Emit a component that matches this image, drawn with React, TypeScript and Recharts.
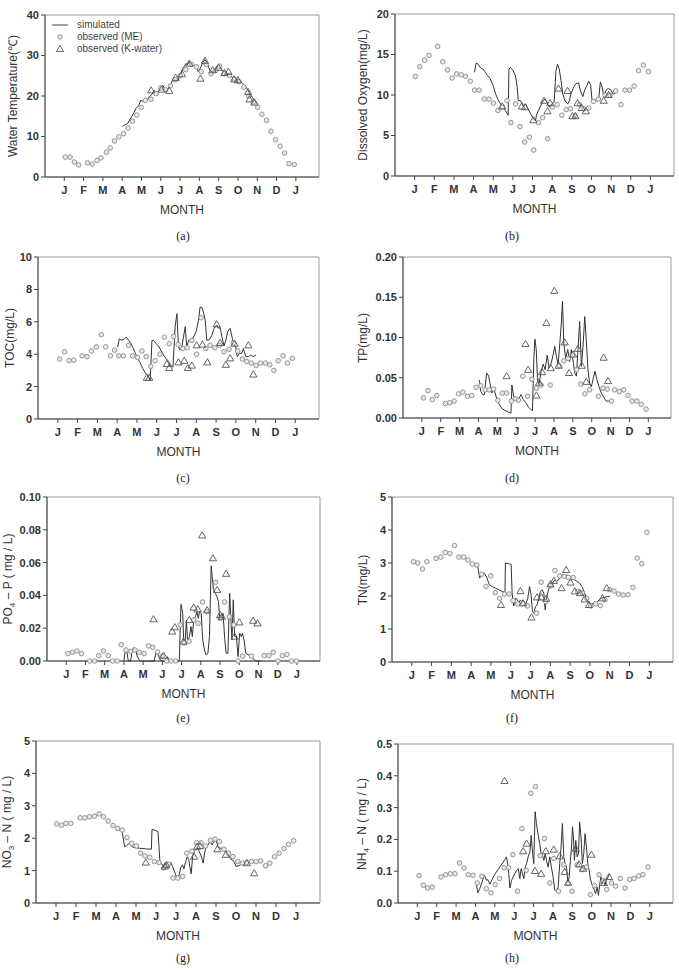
import React from "react";
import { ComposedChart, Line, Scatter, XAxis, YAxis, ReferenceArea } from "recharts";

type Pair = [number, number];

// x is measured in months: 1 = first "J" tick, 13 = the following January
const MONTHS = ["J", "F", "M", "A", "M", "J", "J", "A", "S", "O", "N", "D", "J"];
const MONTH_TICKS = [1, 2, 3, 4, 5, 6, 7, 8, 9, 10, 11, 12, 13];
const X_MAX = 14.2;

// (a) water temperature
const tempSim: Pair[] = [[4.02,12.5],[4.15,12.9],[4.28,13.2],[4.4,14.2],[4.54,15.3],[4.62,16.0],[4.71,16.9],[4.85,17.6],[4.97,19.0],[5.05,18.6],[5.14,19.1],[5.27,19.0],[5.4,19.8],[5.53,20.3],[5.66,21.4],[5.75,20.8],[5.84,21.0],[5.96,21.6],[6.09,22.7],[6.18,22.0],[6.27,21.4],[6.35,21.6],[6.44,22.3],[6.52,22.9],[6.61,23.9],[6.7,23.6],[6.79,24.3],[6.88,23.7],[6.96,24.7],[7.05,25.4],[7.13,26.8],[7.22,27.3],[7.3,28.0],[7.39,27.8],[7.48,28.5],[7.56,28.0],[7.65,28.0],[7.74,27.5],[7.82,27.6],[7.88,26.8],[7.94,26.0],[8.0,26.4],[8.08,27.2],[8.18,28.2],[8.28,29.0],[8.35,28.6],[8.42,28.0],[8.49,27.0],[8.56,26.2],[8.66,26.0],[8.77,26.4],[8.86,27.0],[8.94,27.6],[9.02,27.0],[9.1,26.8],[9.19,26.2],[9.28,26.0],[9.36,25.9],[9.45,25.6],[9.54,25.2],[9.63,24.9],[9.71,24.6],[9.8,24.3],[9.88,24.0],[9.97,24.1],[10.06,23.8],[10.15,23.5],[10.23,23.2],[10.32,22.7],[10.41,22.2],[10.5,21.6],[10.58,20.9],[10.67,20.2],[10.75,19.6],[10.84,19.1],[10.93,18.6],[11.02,18.1]];
const tempME: Pair[] = [[1.05,4.9],[1.3,4.9],[1.52,3.7],[1.74,3.0],[2.2,3.5],[2.45,3.2],[2.7,4.1],[2.9,4.7],[3.18,6.1],[3.38,7.2],[3.6,8.9],[3.83,9.9],[4.07,10.7],[4.3,12.1],[4.54,13.8],[4.76,15.3],[4.99,17.2],[5.2,18.9],[5.5,19.2],[5.75,20.6],[6.0,22.0],[6.25,21.5],[6.5,22.5],[6.75,24.0],[7.0,25.0],[7.3,26.5],[7.6,27.8],[7.85,27.2],[8.1,26.0],[8.35,27.8],[8.6,25.5],[8.85,26.3],[9.05,27.4],[9.3,25.5],[9.55,25.1],[9.8,24.2],[10.05,23.5],[10.3,22.2],[10.55,20.0],[10.8,18.5],[11.02,17.2],[11.24,15.5],[11.48,14.0],[11.71,11.3],[11.95,9.2],[12.19,7.6],[12.42,5.9],[12.64,3.3],[12.92,3.1]];
const tempKW: Pair[] = [[5.5,21.4],[6.04,21.6],[6.44,21.3],[6.77,24.5],[7.1,25.4],[7.48,28.0],[8.05,24.3],[8.29,28.7],[8.69,26.4],[9.0,27.0],[9.3,25.7],[9.5,26.0],[9.8,24.1],[10.0,23.9],[10.53,21.0],[10.6,19.2],[10.85,18.4]];

// (b) dissolved oxygen
const doSim: Pair[] = [[4.05,12.8],[4.12,13.9],[4.2,13.9],[4.34,13.4],[4.48,13.2],[4.6,12.8],[4.71,12.4],[4.85,12.0],[4.99,11.2],[5.11,10.2],[5.23,9.5],[5.37,8.9],[5.48,8.6],[5.62,8.1],[5.76,7.5],[5.8,13.2],[5.88,13.4],[6.01,13.0],[6.13,12.4],[6.22,11.0],[6.27,9.3],[6.39,9.3],[6.53,8.6],[6.65,8.9],[6.77,8.3],[6.9,7.7],[7.04,7.1],[7.15,6.8],[7.2,7.5],[7.3,8.1],[7.42,8.7],[7.54,9.3],[7.64,9.5],[7.73,9.1],[7.85,8.5],[7.97,8.9],[8.1,9.1],[8.19,13.0],[8.27,13.8],[8.36,13.2],[8.45,11.8],[8.53,10.2],[8.65,9.3],[8.79,8.9],[8.88,9.3],[8.96,10.2],[9.1,11.0],[9.22,11.4],[9.34,11.5],[9.44,10.5],[9.56,9.8],[9.65,10.6],[9.77,11.2],[9.86,11.7],[9.96,11.2],[10.03,9.3],[10.13,9.4],[10.25,9.3],[10.37,9.5],[10.45,11.6],[10.54,11.0],[10.63,9.8],[10.73,10.6],[10.85,10.8],[10.99,10.6],[11.11,10.1],[11.19,10.2]];
const doME: Pair[] = [[1.03,12.3],[1.26,13.5],[1.51,14.3],[1.73,14.9],[2.17,16.0],[2.43,14.1],[2.67,13.1],[2.91,12.1],[3.14,12.6],[3.37,12.5],[3.59,12.3],[3.83,11.7],[4.05,10.6],[4.28,10.6],[4.54,9.5],[4.78,9.5],[5.01,9.0],[5.24,8.1],[5.46,8.5],[5.7,9.3],[5.9,6.6],[6.14,8.9],[6.36,6.1],[6.6,4.2],[6.84,4.8],[7.06,3.2],[7.3,6.6],[7.52,7.2],[7.77,4.6],[8.01,8.5],[8.25,8.8],[8.49,7.5],[8.71,8.2],[8.93,8.3],[9.17,7.4],[9.4,8.8],[9.62,8.3],[9.86,8.4],[10.1,9.2],[10.35,9.5],[10.69,10.0],[10.94,10.0],[11.23,10.5],[11.5,8.8],[11.71,10.6],[11.94,10.6],[12.17,11.1],[12.4,13.0],[12.64,13.7],[12.9,12.9]];
const doKW: Pair[] = [[5.46,8.6],[6.45,8.6],[6.62,8.5],[7.04,6.9],[7.59,9.3],[7.76,8.0],[7.9,9.0],[8.32,10.8],[8.78,10.5],[9.03,7.4],[9.18,7.4],[9.29,9.0],[9.5,8.4],[9.71,8.0],[10.62,9.3],[10.87,10.0]];

// (c) TOC
const tocSim: Pair[] = [[4.03,4.45],[4.11,4.95],[4.24,4.85],[4.36,4.95],[4.46,5.05],[4.58,4.85],[4.7,4.65],[4.8,4.4],[4.92,4.05],[5.03,3.75],[5.17,3.45],[5.3,3.1],[5.42,2.85],[5.54,2.7],[5.67,2.4],[5.76,4.85],[5.84,4.85],[5.97,4.65],[6.09,4.5],[6.21,4.25],[6.34,3.95],[6.46,3.75],[6.6,3.55],[6.71,3.3],[6.82,3.2],[6.93,5.7],[7.02,6.5],[7.1,4.45],[7.18,4.25],[7.27,4.45],[7.35,5.05],[7.44,5.7],[7.52,4.35],[7.6,4.85],[7.72,4.9],[7.86,5.05],[7.99,5.4],[8.11,6.1],[8.19,6.9],[8.28,6.9],[8.36,6.6],[8.45,6.1],[8.53,4.85],[8.66,4.9],[8.78,5.15],[8.9,5.6],[9.03,5.8],[9.12,5.6],[9.2,5.65],[9.3,5.05],[9.4,4.5],[9.49,4.85],[9.59,5.4],[9.71,5.6],[9.79,5.15],[9.87,4.65],[9.99,4.45],[10.07,3.85],[10.18,4.05],[10.29,4.05],[10.38,4.35],[10.5,3.85],[10.63,3.85],[10.75,3.95],[10.88,3.85],[11.02,3.95]];
const tocME: Pair[] = [[1.1,3.7],[1.34,4.15],[1.57,3.6],[1.81,3.63],[2.23,3.9],[2.48,3.85],[2.7,4.2],[2.95,4.45],[3.2,5.2],[3.42,4.45],[3.66,3.9],[3.87,4.25],[4.08,3.9],[4.31,3.9],[4.58,4.55],[4.78,3.9],[5.03,3.8],[5.25,4.2],[5.47,3.85],[5.7,3.25],[5.92,3.6],[6.16,4.0],[6.38,5.05],[6.63,4.65],[6.85,5.1],[7.08,4.6],[7.32,4.35],[7.54,4.4],[7.78,4.85],[8.01,4.0],[8.24,6.25],[8.48,4.35],[8.7,4.55],[8.93,4.4],[9.17,4.55],[9.4,4.15],[9.65,4.3],[9.87,4.7],[10.09,4.2],[10.33,3.7],[10.55,3.55],[10.78,3.45],[11.02,3.3],[11.24,3.45],[11.49,3.45],[11.71,3.35],[11.92,3.0],[12.14,3.6],[12.38,3.9],[12.6,3.45],[12.85,3.75]];
const tocKW: Pair[] = [[5.5,2.55],[5.62,2.55],[6.51,3.4],[6.63,3.15],[7.1,3.5],[7.39,3.6],[7.57,3.15],[7.77,3.3],[8.02,4.55],[8.31,4.6],[8.56,3.5],[9.03,5.85],[9.2,4.7],[9.49,3.35],[9.71,3.75],[9.93,4.65],[10.63,4.55],[10.88,2.75]];

// (d) TP
const tpSim: Pair[] = [[4.05,0.047],[4.12,0.033],[4.22,0.029],[4.31,0.029],[4.43,0.056],[4.54,0.052],[4.61,0.043],[4.71,0.031],[4.82,0.036],[4.93,0.027],[5.05,0.019],[5.23,0.012],[5.4,0.0095],[5.58,0.0074],[5.72,0.006],[5.77,0.041],[5.86,0.027],[5.98,0.025],[6.11,0.023],[6.25,0.029],[6.37,0.023],[6.51,0.019],[6.63,0.014],[6.76,0.011],[6.86,0.009],[6.93,0.072],[6.99,0.098],[7.06,0.085],[7.13,0.047],[7.21,0.042],[7.32,0.058],[7.43,0.067],[7.53,0.06],[7.64,0.078],[7.74,0.062],[7.85,0.068],[7.95,0.078],[8.04,0.089],[8.13,0.076],[8.22,0.066],[8.31,0.093],[8.39,0.118],[8.45,0.145],[8.52,0.093],[8.62,0.074],[8.73,0.085],[8.83,0.07],[8.92,0.085],[9.03,0.068],[9.1,0.056],[9.19,0.052],[9.27,0.085],[9.36,0.12],[9.45,0.064],[9.54,0.089],[9.63,0.126],[9.71,0.097],[9.8,0.06],[9.89,0.043],[9.98,0.039],[10.06,0.047],[10.17,0.058],[10.28,0.047],[10.38,0.039],[10.51,0.031],[10.63,0.026],[10.77,0.021],[10.91,0.021],[11.04,0.021]];
const tpME: Pair[] = [[1.09,0.025],[1.32,0.034],[1.55,0.023],[1.79,0.028],[2.25,0.018],[2.48,0.019],[2.71,0.021],[2.94,0.03],[3.18,0.032],[3.41,0.027],[3.64,0.028],[3.87,0.038],[4.12,0.04],[4.35,0.035],[4.57,0.035],[4.8,0.036],[5.03,0.022],[5.26,0.031],[5.49,0.031],[5.74,0.021],[5.96,0.024],[6.12,0.022],[6.35,0.052],[6.6,0.027],[6.83,0.048],[7.07,0.037],[7.32,0.041],[7.8,0.041],[8.27,0.065],[8.52,0.071],[8.75,0.074],[8.98,0.078],[9.2,0.06],[9.42,0.042],[9.64,0.03],[9.89,0.035],[10.35,0.027],[10.6,0.037],[10.82,0.036],[11.05,0.021],[11.21,0.035],[11.46,0.033],[11.69,0.035],[11.92,0.028],[12.14,0.021],[12.39,0.021],[12.62,0.017],[12.88,0.011]];
const tpKW: Pair[] = [[5.49,0.052],[6.49,0.092],[6.63,0.06],[7.07,0.028],[7.21,0.044],[7.37,0.057],[7.6,0.118],[7.83,0.062],[8.02,0.158],[8.25,0.065],[8.57,0.094],[8.8,0.056],[9.01,0.079],[9.26,0.086],[9.47,0.065],[9.71,0.045],[10.63,0.075],[10.86,0.046]];

// (e) PO4-P
const po4Sim: Pair[] = [[4.0,0],[4.07,0.0067],[4.14,0.0067],[4.23,0],[4.35,0],[4.44,0.0073],[4.53,0.0081],[4.61,0.0067],[4.7,0.0026],[4.84,0],[5.22,0],[5.57,0],[5.69,0.0061],[5.78,0.0037],[5.89,0.0006],[6.0,0],[6.18,0],[6.27,0.0026],[6.36,0],[6.88,0],[6.97,0.0346],[7.06,0.029],[7.11,0.0128],[7.18,0.0108],[7.25,0.025],[7.32,0.0114],[7.41,0.0149],[7.49,0.021],[7.56,0.0149],[7.63,0.025],[7.72,0.027],[7.8,0.03],[7.87,0.026],[7.93,0.03],[8.02,0.029],[8.1,0.0128],[8.19,0.0067],[8.28,0.0037],[8.37,0.0047],[8.45,0.0149],[8.54,0.058],[8.59,0.0515],[8.66,0.0434],[8.75,0.0413],[8.84,0.0393],[8.92,0.0362],[8.99,0.025],[9.07,0.027],[9.16,0.029],[9.24,0.0138],[9.32,0.0047],[9.41,0.0047],[9.5,0.0413],[9.55,0.029],[9.62,0.0128],[9.69,0.0373],[9.76,0.0149],[9.85,0.0149],[9.94,0.0026],[10.02,0.0169],[10.11,0.0149],[10.16,0.0169],[10.25,0.0128],[10.34,0.0047],[10.46,0.0037],[10.6,0.0037],[10.72,0.0016],[10.84,0],[11.12,0]];
const po4ME: Pair[] = [[1.09,0.0045],[1.33,0.0053],[1.56,0.0061],[1.79,0.0045],[2.22,0],[2.48,0],[2.69,0.0033],[2.94,0.0061],[3.18,0.0033],[3.41,0],[3.65,0],[3.86,0.01],[4.11,0.0067],[4.35,0.0059],[4.58,0.0067],[4.8,0.0053],[5.05,0.0045],[5.28,0.0092],[5.5,0.0083],[5.75,0.0055],[5.99,0.0029],[6.22,0],[6.45,0],[6.69,0],[6.93,0.022],[7.14,0.011],[7.39,0.012],[7.63,0.025],[7.86,0.023],[8.09,0.036],[8.31,0.03],[8.77,0.048],[9.01,0.026],[9.24,0.036],[9.48,0.027],[9.72,0.022],[9.94,0],[10.18,0.003],[10.63,0.003],[11.3,0.0033],[11.54,0.0033],[11.77,0.0053],[12.01,0],[12.24,0.0033],[12.48,0.004],[12.71,0],[12.97,0]];
const po4KW: Pair[] = [[5.54,0.0255],[6.06,0.0033],[6.51,0.018],[6.65,0.0206],[7.1,0.0118],[7.4,0.025],[7.63,0.0326],[7.84,0.0316],[8.07,0.0766],[8.33,0.031],[8.63,0.0627],[8.85,0.0434],[9.01,0.028],[9.1,0.027],[9.32,0.0532],[9.76,0.0149],[10.01,0.0236],[10.72,0.0246],[10.95,0.023]];

// (f) TN
const tnSim: Pair[] = [[4.04,2.97],[4.21,2.95],[4.33,2.92],[4.43,2.54],[4.55,2.64],[4.67,2.69],[4.8,2.54],[4.92,2.34],[5.05,2.29],[5.22,2.24],[5.39,2.19],[5.56,2.14],[5.71,2.1],[5.73,3.0],[5.9,2.98],[6.02,2.95],[6.07,2.09],[6.15,1.7],[6.24,1.93],[6.32,1.9],[6.41,1.8],[6.49,1.88],[6.62,1.78],[6.74,1.7],[6.86,1.93],[6.95,2.29],[7.03,2.03],[7.1,1.53],[7.17,1.48],[7.25,1.68],[7.33,1.73],[7.42,1.93],[7.5,2.14],[7.59,2.19],[7.67,2.09],[7.74,1.58],[7.81,1.93],[7.91,2.19],[8.01,2.31],[8.11,2.39],[8.22,2.49],[8.31,2.44],[8.42,2.49],[8.52,2.59],[8.62,2.66],[8.72,2.59],[8.86,2.64],[8.99,2.54],[9.11,2.51],[9.23,2.49],[9.36,2.44],[9.48,2.39],[9.6,2.29],[9.7,2.14],[9.8,1.98],[9.9,1.83],[10.0,1.73],[10.1,1.76],[10.21,1.78],[10.34,1.8],[10.46,1.88],[10.58,1.93],[10.71,1.96],[10.88,1.98],[11.02,2.0]];
const tnME: Pair[] = [[1.08,3.04],[1.3,3.0],[1.54,2.82],[1.76,3.04],[2.22,3.14],[2.47,3.18],[2.69,3.32],[2.93,3.29],[3.16,3.53],[3.38,3.18],[3.62,3.18],[3.84,3.09],[4.06,2.97],[4.29,2.94],[4.53,2.66],[4.75,2.29],[4.99,2.61],[5.22,2.1],[5.44,1.93],[5.68,2.06],[5.92,2.06],[6.12,1.86],[6.35,1.76],[6.61,1.78],[6.84,1.7],[7.3,1.48],[7.54,2.42],[7.77,1.83],[8.01,2.31],[8.23,2.77],[8.47,2.61],[8.7,2.59],[8.92,2.56],[9.16,2.56],[9.38,2.14],[9.62,2.09],[9.84,1.93],[10.05,1.7],[10.29,1.76],[10.53,1.71],[10.76,1.88],[11.0,2.19],[11.22,2.15],[11.45,2.06],[11.68,2.03],[11.93,2.04],[12.17,2.26],[12.39,3.15],[12.62,2.98],[12.88,3.93]];
const tnKW: Pair[] = [[5.51,1.73],[6.49,2.15],[6.62,1.78],[7.05,1.35],[7.33,1.96],[7.55,1.96],[7.79,1.92],[8.01,2.36],[8.18,2.46],[8.57,2.24],[8.8,2.79],[9.02,2.41],[9.24,2.14],[9.5,2.09],[9.73,1.9],[9.95,1.73],[10.63,1.93],[10.85,2.24]];

// (g) NO3-N
const no3Sim: Pair[] = [[4.01,2.27],[4.18,2.25],[4.31,2.2],[4.43,1.74],[4.51,1.76],[4.65,1.84],[4.77,1.76],[4.85,1.72],[5.18,1.69],[5.52,1.67],[5.77,1.66],[5.8,2.27],[5.94,2.25],[6.1,2.2],[6.19,1.33],[6.27,1.21],[6.39,1.13],[6.49,1.23],[6.57,1.15],[6.66,1.13],[6.74,1.25],[6.86,1.08],[6.96,0.92],[7.06,0.74],[7.14,0.82],[7.23,1.08],[7.33,1.18],[7.39,1.05],[7.49,1.28],[7.56,1.43],[7.63,1.35],[7.69,1.13],[7.76,0.9],[7.83,1.43],[7.91,1.59],[8.0,1.66],[8.08,1.69],[8.16,1.59],[8.26,1.45],[8.36,1.23],[8.43,1.54],[8.5,1.74],[8.6,1.79],[8.7,1.9],[8.8,1.79],[8.9,1.9],[9.0,1.95],[9.1,1.74],[9.2,1.69],[9.3,1.69],[9.4,1.59],[9.5,1.62],[9.6,1.54],[9.7,1.38],[9.8,1.33],[9.9,1.28],[10.0,1.13],[10.14,1.15],[10.27,1.2],[10.4,1.23],[10.54,1.25],[10.71,1.28],[10.84,1.25],[10.97,1.28],[11.08,1.25]];
const no3ME: Pair[] = [[1.03,2.44],[1.28,2.4],[1.5,2.46],[1.74,2.46],[2.21,2.63],[2.44,2.63],[2.67,2.66],[2.92,2.68],[3.16,2.75],[3.38,2.66],[3.61,2.53],[3.85,2.39],[4.08,2.3],[4.31,2.25],[4.55,2.02],[4.78,1.84],[5.02,1.76],[5.23,1.54],[5.45,1.45],[5.69,1.41],[5.92,1.28],[6.15,1.25],[6.39,1.08],[6.62,1.2],[6.86,0.77],[7.09,0.77],[7.33,0.82],[7.54,1.54],[7.8,1.6],[8.03,1.86],[8.25,1.86],[8.48,1.76],[8.72,1.93],[8.95,1.97],[9.17,1.9],[9.4,1.66],[9.62,1.54],[9.85,1.43],[10.09,1.28],[10.32,1.23],[10.54,1.25],[10.77,1.28],[11.01,1.28],[11.24,1.3],[11.48,1.15],[11.69,1.23],[11.93,1.43],[12.16,1.54],[12.4,1.68],[12.63,1.81],[12.88,1.92]];
const no3KW: Pair[] = [[5.49,1.25],[6.44,1.13],[6.52,1.17],[7.9,1.43],[8.06,1.74],[8.2,1.76],[9.07,1.66],[9.49,1.49],[10.54,1.23],[10.91,0.92]];

// (h) NH4-N
const nh4Sim: Pair[] = [[4.03,0.066],[4.12,0.032],[4.22,0.045],[4.34,0.066],[4.46,0.087],[4.58,0.071],[4.63,0.074],[4.75,0.059],[4.88,0.077],[5.0,0.09],[5.14,0.103],[5.26,0.113],[5.4,0.126],[5.52,0.137],[5.6,0.145],[5.69,0.113],[5.78,0.047],[5.86,0.071],[5.95,0.082],[6.03,0.092],[6.12,0.103],[6.21,0.108],[6.29,0.077],[6.36,0.108],[6.43,0.092],[6.5,0.077],[6.57,0.113],[6.64,0.124],[6.72,0.145],[6.81,0.161],[6.88,0.213],[6.95,0.155],[7.01,0.124],[7.08,0.287],[7.15,0.25],[7.24,0.213],[7.32,0.187],[7.39,0.155],[7.46,0.15],[7.53,0.134],[7.6,0.155],[7.67,0.134],[7.75,0.113],[7.84,0.145],[7.92,0.113],[8.01,0.082],[8.1,0.04],[8.18,0.035],[8.27,0.05],[8.35,0.124],[8.42,0.176],[8.49,0.25],[8.56,0.145],[8.63,0.124],[8.7,0.113],[8.77,0.061],[8.84,0.082],[8.9,0.134],[8.96,0.176],[9.01,0.24],[9.06,0.208],[9.11,0.134],[9.18,0.197],[9.25,0.145],[9.32,0.155],[9.38,0.255],[9.45,0.208],[9.52,0.124],[9.59,0.155],[9.66,0.218],[9.73,0.176],[9.8,0.124],[9.87,0.103],[9.93,0.077],[10.0,0.061],[10.07,0.05],[10.14,0.04],[10.2,0.029],[10.28,0.05],[10.35,0.024],[10.42,0.061],[10.48,0.082],[10.55,0.061],[10.62,0.077],[10.69,0.056],[10.76,0.071],[10.85,0.082],[10.93,0.09]];
const nh4ME: Pair[] = [[1.09,0.086],[1.31,0.056],[1.53,0.047],[1.77,0.05],[2.22,0.082],[2.46,0.089],[2.7,0.092],[2.94,0.092],[3.18,0.126],[3.41,0.11],[3.63,0.089],[3.87,0.087],[4.09,0.063],[4.33,0.084],[4.56,0.045],[4.8,0.032],[5.02,0.058],[5.24,0.077],[5.48,0.111],[5.71,0.111],[5.93,0.152],[6.17,0.037],[6.4,0.234],[6.62,0.103],[6.86,0.345],[7.1,0.366],[7.34,0.149],[7.56,0.203],[7.84,0.063],[8.05,0.14],[8.29,0.037],[8.55,0.12],[8.78,0.061],[8.99,0.037],[9.25,0.12],[9.5,0.105],[9.73,0.113],[9.93,0.026],[10.15,0.055],[10.38,0.089],[10.6,0.07],[10.78,0.043],[11.02,0.063],[11.24,0.053],[11.48,0.077],[11.72,0.047],[11.96,0.074],[12.19,0.077],[12.43,0.085],[12.65,0.089],[12.91,0.113]];
const nh4KW: Pair[] = [[5.5,0.384],[6.46,0.163],[6.64,0.187],[7.07,0.101],[7.39,0.092],[7.63,0.163],[8.04,0.168],[8.35,0.147],[8.61,0.098],[8.78,0.064],[9.18,0.171],[9.35,0.122],[9.56,0.108],[9.99,0.152],[10.64,0.063],[10.9,0.082]];

const FONT = '"Liberation Sans", Arial, sans-serif';
const SERIF = '"Liberation Serif", "Times New Roman", serif';

const toPts = (arr: Pair[]) => arr.map(([x, y]) => ({ x, y }));

const Ring = (p: any) => (
  <circle cx={p.cx} cy={p.cy} r={2.3} fill="#e8e8e8" stroke="#8c8c8c" strokeWidth={0.9} />
);
const Tri = (p: any) => (
  <path
    d={`M${p.cx},${p.cy - 3.6}L${p.cx + 3.6},${p.cy + 2.6}L${p.cx - 3.6},${p.cy + 2.6}Z`}
    fill="none"
    stroke="#555"
    strokeWidth={0.9}
  />
);

type PanelProps = {
  box: [number, number, number, number]; // plot left, top, right, bottom
  sim: Pair[];
  me: Pair[];
  kw: Pair[];
  yMax: number;
  yTicks: number[];
  digits: number;
  ylabel: React.ReactNode;
  ylabelX: number;
  caption: string;
  captionX: number;
  captionY: number;
};

function Panel(props: PanelProps) {
  const [L, T, R, B] = props.box;
  const yw = 34;
  const pad = 6;
  const xh = 46;
  const w = R - L + yw + pad;
  const h = B - T + pad + xh;
  const tickStyle = { fontSize: 11, fontWeight: "bold" as const, fill: "#333", fontFamily: FONT };
  return (
    <>
      <div style={{ position: "absolute", left: L - yw, top: T - pad }}>
        <ComposedChart width={w} height={h} margin={{ top: pad, right: pad, left: 0, bottom: 0 }}>
          <ReferenceArea x1={0} x2={X_MAX} y1={0} y2={props.yMax} fill="none" stroke="#9a9a9a" strokeWidth={1} />
          <XAxis
            type="number"
            dataKey="x"
            domain={[0, X_MAX]}
            ticks={MONTH_TICKS}
            tickFormatter={(v: number) => MONTHS[v - 1]}
            interval={0}
            height={xh}
            stroke="#444"
            tickSize={4}
            tickMargin={5}
            tick={tickStyle}
            label={{ value: "MONTH", position: "insideBottom", offset: 9, fontSize: 12, fill: "#333", fontFamily: FONT }}
          />
          <YAxis
            type="number"
            dataKey="y"
            domain={[0, props.yMax]}
            ticks={props.yTicks}
            interval={0}
            width={yw}
            stroke="#444"
            tickSize={4}
            tick={tickStyle}
            tickFormatter={(v: number) => v.toFixed(props.digits)}
          />
          <Scatter data={toPts(props.me)} shape={Ring} isAnimationActive={false} />
          <Line
            data={toPts(props.sim)}
            dataKey="y"
            type="linear"
            stroke="#333"
            strokeWidth={1}
            dot={false}
            activeDot={false}
            isAnimationActive={false}
          />
          <Scatter data={toPts(props.kw)} shape={Tri} isAnimationActive={false} />
        </ComposedChart>
      </div>
      <div
        style={{
          position: "absolute",
          left: props.ylabelX,
          top: (T + B) / 2,
          transform: "translate(-50%, -50%) rotate(-90deg)",
          whiteSpace: "nowrap",
          fontFamily: FONT,
          fontSize: 12,
          color: "#333",
        }}
      >
        {props.ylabel}
      </div>
      <div
        style={{
          position: "absolute",
          left: props.captionX,
          top: props.captionY,
          transform: "translate(-50%, -50%)",
          fontFamily: SERIF,
          fontSize: 12,
          color: "#222",
        }}
      >
        {props.caption}
      </div>
    </>
  );
}

function SeriesLegend() {
  const row = { position: "absolute" as const, left: 77, fontFamily: FONT, fontSize: 10, color: "#444", lineHeight: "12px" };
  return (
    <>
      <svg style={{ position: "absolute", left: 50, top: 18 }} width={22} height={40}>
        <line x1={2} y1={7} x2={18} y2={7} stroke="#444" strokeWidth={1} />
        <circle cx={10} cy={19} r={2.3} fill="#e8e8e8" stroke="#8c8c8c" strokeWidth={0.9} />
        <path d="M10,27.4L13.6,33.6L6.4,33.6Z" fill="none" stroke="#555" strokeWidth={0.9} />
      </svg>
      <div style={{ ...row, top: 19 }}>simulated</div>
      <div style={{ ...row, top: 31 }}>observed (ME)</div>
      <div style={{ ...row, top: 43 }}>observed (K-water)</div>
    </>
  );
}

const sub = (s: string) => <sub style={{ fontSize: 8 }}>{s}</sub>;

export default function App() {
  return (
    <div style={{ position: "absolute", left: 0, top: 0, width: 679, height: 972, background: "#fff", overflow: "hidden" }}>
      <Panel box={[45, 15, 319, 177]} sim={tempSim} me={tempME} kw={tempKW} yMax={40} yTicks={[0, 10, 20, 30, 40]} digits={0}
        ylabel="Water Temperature(℃)" ylabelX={12} caption="(a)" captionX={183} captionY={236} />
      <Panel box={[395, 14, 674, 176]} sim={doSim} me={doME} kw={doKW} yMax={20} yTicks={[0, 5, 10, 15, 20]} digits={0}
        ylabel="Dissolved Oxygen(mg/L)" ylabelX={363} caption="(b)" captionX={512} captionY={236} />
      <Panel box={[38, 257, 319, 419]} sim={tocSim} me={tocME} kw={tocKW} yMax={10} yTicks={[0, 2, 4, 6, 8, 10]} digits={0}
        ylabel="TOC(mg/L)" ylabelX={10} caption="(c)" captionX={183} captionY={478} />
      <Panel box={[403, 257, 671, 418]} sim={tpSim} me={tpME} kw={tpKW} yMax={0.2} yTicks={[0, 0.05, 0.1, 0.15, 0.2]} digits={2}
        ylabel="TP(mg/L)" ylabelX={363} caption="(d)" captionX={512} captionY={478} />
      <Panel box={[47, 497, 320, 661]} sim={po4Sim} me={po4ME} kw={po4KW} yMax={0.1} yTicks={[0, 0.02, 0.04, 0.06, 0.08, 0.1]} digits={2}
        ylabel={<>PO{sub("4")} – P ( mg / L)</>} ylabelX={9} caption="(e)" captionX={183} captionY={718} />
      <Panel box={[392, 497, 673, 662]} sim={tnSim} me={tnME} kw={tnKW} yMax={5} yTicks={[0, 1, 2, 3, 4, 5]} digits={0}
        ylabel="TN(mg/L)" ylabelX={363} caption="(f)" captionX={512} captionY={718} />
      <Panel box={[36, 741, 320, 903]} sim={no3Sim} me={no3ME} kw={no3KW} yMax={5} yTicks={[0, 1, 2, 3, 4, 5]} digits={0}
        ylabel={<>NO{sub("3")} – N ( mg / L)</>} ylabelX={8} caption="(g)" captionX={183} captionY={958} />
      <Panel box={[398, 744, 673, 903]} sim={nh4Sim} me={nh4ME} kw={nh4KW} yMax={0.5} yTicks={[0, 0.1, 0.2, 0.3, 0.4, 0.5]} digits={1}
        ylabel={<>NH{sub("4")} – N ( mg / L)</>} ylabelX={363} caption="(h)" captionX={512} captionY={958} />
      <SeriesLegend />
    </div>
  );
}
